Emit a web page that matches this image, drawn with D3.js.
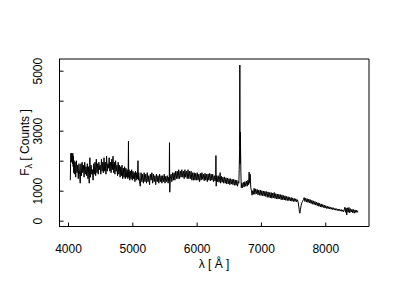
<!DOCTYPE html>
<html>
<head>
<meta charset="utf-8">
<script src="https://cdn.jsdelivr.net/npm/d3@7"></script>
<style>
  body { margin: 0; background: #fff; }
  text { font-family: "Liberation Sans", Arial, sans-serif; }
</style>
</head>
<body>
<div id="chart"></div>
<script>
// spectrum: [wavelength (A), flux (counts)]
var spectrum = [
    [4036,1350],[4040,1900],[4045,2250],[4050,1950],[4055,2250],[4060,2000],[4065,2200],[4070,1900],[4075,2250],[4080,1800],
    [4085,2150],[4090,1600],[4095,2000],[4100,1550],[4110,1950],[4120,1450],[4130,2000],[4140,1600],[4150,1850],[4160,1400],
    [4170,1900],[4180,1550],[4190,1250],[4200,1900],[4210,1500],[4220,1950],[4230,1600],[4240,1850],[4250,1450],[4260,1950],
    [4270,1550],[4280,1800],[4290,1500],[4300,1900],[4310,1400],[4320,1800],[4330,1250],[4340,2100],[4350,1450],[4360,1850],
    [4370,1550],[4380,1700],[4390,1350],[4400,1900],[4410,1550],[4420,1950],[4430,1500],[4440,2050],[4450,1600],[4460,1900],
    [4470,1550],[4480,1950],[4490,1700],[4500,1850],[4510,1550],[4520,2050],[4530,1650],[4540,1950],[4550,1600],[4560,2100],
    [4570,1650],[4580,1950],[4590,1550],[4600,2150],[4610,1650],[4620,1900],[4630,1750],[4640,2100],[4650,1650],[4660,1950],
    [4670,1600],[4680,2050],[4690,1700],[4700,2150],[4710,1600],[4720,1950],[4730,1550],[4740,2000],[4750,1650],[4760,1850],
    [4770,1500],[4780,1950],[4790,1550],[4800,1850],[4810,1450],[4820,1800],[4830,1500],[4840,1850],[4850,1400],[4860,1750],
    [4870,1450],[4880,1800],[4890,1400],[4900,1750],[4910,1450],[4920,1700],[4930,1400],[4936,1650],[4940,2650],[4944,1450],
    [4950,1700],[4960,1350],[4970,1650],[4980,1400],[4990,1700],[5000,1350],[5010,1650],[5020,1400],[5030,1600],[5040,1300],
    [5050,1650],[5060,1350],[5070,1600],[5080,1400],[5088,2000],[5094,1350],[5100,1600],[5112,1300],[5124,1150],[5136,1600],
    [5148,1300],[5160,1550],[5172,1250],[5184,1600],[5196,1300],[5208,1550],[5220,1250],[5232,1600],[5244,1300],[5256,1500],
    [5268,1200],[5280,1550],[5292,1350],[5304,1600],[5316,1250],[5328,1550],[5340,1300],[5352,1500],[5364,1200],[5376,1550],
    [5388,1300],[5400,1500],[5412,1250],[5424,1550],[5436,1300],[5448,1500],[5460,1250],[5472,1500],[5484,1300],[5496,1550],
    [5508,1250],[5520,1480],[5532,1300],[5544,1500],[5556,1250],[5568,1450],[5574,1350],[5578,2600],[5582,950],[5590,1400],
    [5602,1550],[5614,1300],[5626,1600],[5638,1350],[5650,1600],[5662,1350],[5674,1650],[5686,1400],[5698,1650],[5710,1400],
    [5722,1700],[5734,1400],[5746,1650],[5758,1450],[5770,1700],[5782,1450],[5794,1650],[5806,1400],[5818,1700],[5830,1450],
    [5842,1650],[5854,1400],[5866,1700],[5878,1400],[5890,1650],[5902,1400],[5914,1650],[5926,1350],[5938,1600],[5950,1350],
    [5962,1600],[5974,1350],[5986,1580],[5998,1350],[6010,1600],[6022,1350],[6034,1550],[6046,1300],[6058,1580],[6070,1350],
    [6082,1600],[6094,1380],[6106,1550],[6118,1330],[6130,1580],[6142,1350],[6154,1550],[6166,1300],[6178,1560],[6190,1350],
    [6202,1580],[6214,1330],[6226,1550],[6238,1350],[6250,1550],[6262,1300],[6274,1500],[6286,1320],[6296,1450],[6300,2170],
    [6304,1150],[6312,1500],[6324,1300],[6336,1500],[6348,1280],[6360,1480],[6366,1600],[6372,1250],[6384,1480],[6396,1280],
    [6408,1450],[6420,1250],[6432,1460],[6444,1250],[6456,1430],[6468,1220],[6480,1420],[6492,1230],[6504,1400],[6516,1200],
    [6528,1400],[6540,1220],[6552,1380],[6564,1200],[6576,1380],[6588,1180],[6600,1360],[6612,1180],[6624,1350],[6636,1150],
    [6648,1300],[6656,1250],[6662,1700],[6668,2400],[6672,5190],[6676,1900],[6680,2950],[6684,2200],[6688,1600],[6694,1100],
    [6702,1250],[6714,1100],[6726,1280],[6738,1120],[6750,1300],[6762,1150],[6774,1320],[6786,1150],[6798,1350],[6808,1200],
    [6816,1620],[6824,1250],[6832,1550],[6842,1100],[6852,1000],[6862,850],[6870,1000],[6882,880],[6894,1080],[6906,880],
    [6918,1060],[6930,900],[6942,1040],[6954,860],[6966,1020],[6978,850],[6990,1020],[7002,840],[7014,1000],[7026,830],
    [7038,990],[7050,820],[7062,980],[7074,810],[7086,970],[7098,780],[7110,960],[7122,780],[7134,940],[7146,760],
    [7158,940],[7170,750],[7182,920],[7194,760],[7206,940],[7218,740],[7230,900],[7242,730],[7254,890],[7266,720],
    [7278,880],[7290,730],[7302,870],[7314,700],[7326,860],[7338,700],[7350,840],[7362,690],[7374,830],[7386,680],
    [7398,810],[7410,670],[7422,800],[7434,670],[7446,780],[7458,660],[7470,770],[7482,650],[7494,760],[7506,640],
    [7518,740],[7530,640],[7542,730],[7554,630],[7566,700],[7578,620],[7590,450],[7598,300],[7606,250],[7614,380],
    [7624,500],[7636,600],[7648,650],[7660,700],[7672,770],[7684,640],[7696,750],[7708,620],[7720,730],[7732,610],
    [7744,720],[7756,590],[7768,700],[7780,570],[7792,680],[7804,550],[7816,660],[7828,540],[7840,640],[7852,520],
    [7864,620],[7876,500],[7888,600],[7900,480],[7912,580],[7924,460],[7936,560],[7948,450],[7960,540],[7972,440],
    [7984,520],[7996,420],[8008,500],[8020,410],[8032,480],[8044,400],[8056,470],[8068,390],[8080,450],[8092,380],
    [8104,440],[8116,370],[8128,430],[8140,360],[8152,410],[8164,350],[8176,400],[8188,340],[8200,390],[8212,330],
    [8224,380],[8236,320],[8248,370],[8260,310],[8272,360],[8284,300],[8296,370],[8306,450],[8314,280],[8324,420],
    [8334,190],[8344,430],[8356,280],[8368,440],[8380,260],[8392,400],[8404,290],[8416,380],[8428,260],[8440,370],
    [8452,250],[8464,360],[8476,270],[8488,350],[8500,280],[8506,320]
]

var xTicks = [4000, 5000, 6000, 7000, 8000]
var yTicks = [0, 1000, 2000, 3000, 4000, 5000]
var yTickLabels = ["0", "1000", "", "3000", "", "5000"]

var width = 400
var height = 300
var box = {left: 59, right: 369, top: 59, bottom: 226}

var svg = d3.select("#chart")
    .append("svg")
    .attr("width", width)
    .attr("height", height)

svg.append("rect").attr("width", width).attr("height", height).attr("fill", "#fff")

var xScale = d3.scaleLinear().domain([3860, 8680]).range([box.left, box.right])
var yScale = d3.scaleLinear().domain([-177, 5390]).range([box.bottom, box.top])

// spectrum
var line = d3.line()
    .x(function(d) { return xScale(d[0]) })
    .y(function(d) { return yScale(d[1]) })

svg.append("path")
    .datum(spectrum)
    .attr("fill", "none")
    .attr("stroke", "#000")
    .attr("stroke-width", 1)
    .attr("d", line)

// box
svg.append("line").attr("x1", box.left + 0.5).attr("x2", box.left + 0.5)
    .attr("y1", box.top).attr("y2", box.bottom + 0.5).attr("stroke", "#000")
svg.append("line").attr("x1", box.left).attr("x2", box.right)
    .attr("y1", box.bottom + 0.5).attr("y2", box.bottom + 0.5).attr("stroke", "#000")
svg.append("line").attr("x1", box.left).attr("x2", box.right)
    .attr("y1", box.top).attr("y2", box.top).attr("stroke", "#000")
svg.append("line").attr("x1", box.right).attr("x2", box.right)
    .attr("y1", box.top).attr("y2", box.bottom + 0.5).attr("stroke", "#000")

// x axis, ticks pointing inward
var xAxis = svg.append("g")
    .attr("transform", "translate(0," + (box.bottom + 0.5) + ")")
    .call(d3.axisBottom(xScale).tickValues(xTicks).tickFormat(d3.format("d"))
        .tickSizeInner(-4).tickSizeOuter(0).tickPadding(18))
xAxis.select(".domain").remove()
xAxis.selectAll("text")
    .attr("font-size", "12px")
    .attr("font-family", "Liberation Sans, Arial, sans-serif")
    .attr("fill", "#000")

// y axis, labels parallel to the axis
var yAxis = svg.append("g")
    .attr("transform", "translate(" + (box.left + 0.5) + ",0)")
    .call(d3.axisLeft(yScale).tickValues(yTicks).tickSizeInner(-4).tickSizeOuter(0)
        .tickFormat(function(d, i) { return yTickLabels[i] }))
yAxis.select(".domain").remove()
yAxis.selectAll("text")
    .attr("x", 0)
    .attr("dy", null)
    .attr("text-anchor", "middle")
    .attr("transform", "translate(-17.8,0) rotate(-90)")
    .attr("font-size", "12px")
    .attr("font-family", "Liberation Sans, Arial, sans-serif")
    .attr("fill", "#000")

// axis titles
svg.append("text")
    .attr("x", (box.left + box.right) / 2)
    .attr("y", 268)
    .attr("text-anchor", "middle")
    .attr("font-size", "12px")
    .text("λ [ Å ]")

var ylab = svg.append("text")
    .attr("transform", "translate(28.5," + ((box.top + box.bottom) / 2) + ") rotate(-90)")
    .attr("text-anchor", "middle")
    .attr("font-size", "12px")
ylab.append("tspan").text("F")
ylab.append("tspan").attr("dy", 3).attr("font-size", "9px").text("λ")
ylab.append("tspan").attr("dy", -3).text(" [ Counts ]")
</script>
</body>
</html>
